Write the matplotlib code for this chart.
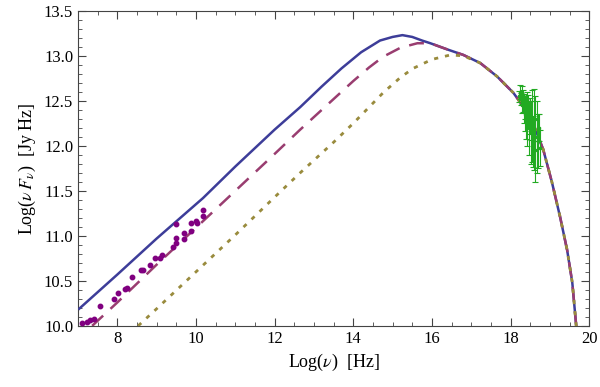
import numpy as np
import matplotlib
matplotlib.use('Agg')
import matplotlib.pyplot as plt
from matplotlib.ticker import MultipleLocator

plt.rcParams['font.family'] = 'Liberation Serif'
plt.rcParams['mathtext.fontset'] = 'stix'

# Modelo 1 (linha solida)
x_solid = [7.03, 8.0, 9.0, 10.18, 11.0, 12.0, 12.65, 13.2, 13.7, 14.2, 14.68, 15.0, 15.25,
           15.5, 15.75, 15.96, 16.4, 16.8, 17.23, 17.66, 18.07, 18.5, 18.83, 19.05, 19.26,
           19.44, 19.57, 19.67, 19.75]
y_solid = [10.19, 10.57, 10.97, 11.42, 11.77, 12.18, 12.43, 12.66, 12.86, 13.04, 13.17, 13.21, 13.23,
           13.21, 13.17, 13.14, 13.07, 13.01, 12.92, 12.77, 12.59, 12.33, 11.96, 11.6, 11.21,
           10.84, 10.48, 10.0, 9.6]

# Modelo 2 (tracejado)
x_dash = [7.36, 8.0, 9.0, 10.0, 11.0, 12.0, 12.65, 13.5, 14.0, 14.4, 14.76, 15.2, 15.63,
          15.96, 16.4, 16.8, 17.23, 17.66, 18.07, 18.5, 18.83, 19.05, 19.26, 19.44, 19.57,
          19.67, 19.75]
y_dash = [10.0, 10.26, 10.68, 11.09, 11.5, 11.91, 12.18, 12.52, 12.72, 12.87, 12.99, 13.09, 13.14,
          13.14, 13.07, 13.01, 12.92, 12.77, 12.59, 12.33, 11.96, 11.6, 11.21, 10.84, 10.48,
          10.0, 9.6]

# Modelo 3 (pontilhado)
x_dot = [8.53, 9.0, 10.0, 11.0, 12.0, 12.65, 13.5, 14.0, 14.76, 15.2, 15.52, 16.0, 16.47,
         16.8, 17.23, 17.66, 18.07, 18.5, 18.83, 19.05, 19.26, 19.44, 19.57, 19.67, 19.75]
y_dot = [10.0, 10.19, 10.6, 11.01, 11.43, 11.7, 12.04, 12.25, 12.59, 12.76, 12.86, 12.96, 13.01,
         13.0, 12.92, 12.77, 12.59, 12.33, 11.96, 11.6, 11.21, 10.84, 10.48, 10.0, 9.6]

# Dados radio
radio_x = [7.09, 7.22, 7.30, 7.40, 7.57, 7.91, 8.01, 8.20, 8.25, 8.38, 8.59, 8.66, 8.83, 8.97,
           9.09, 9.14, 9.42, 9.48, 9.50, 9.50, 9.69, 9.69, 9.87, 9.87, 10.01, 10.02, 10.18, 10.18]
radio_y = [10.03, 10.04, 10.06, 10.08, 10.22, 10.30, 10.37, 10.41, 10.42, 10.54, 10.62, 10.62, 10.68, 10.75,
           10.75, 10.79, 10.88, 10.92, 10.98, 11.13, 11.03, 10.97, 11.05, 11.14, 11.17, 11.14, 11.29, 11.22]

# Dados raios X
xray_x = [18.22, 18.25, 18.27, 18.29, 18.30, 18.32, 18.33, 18.35, 18.36, 18.38, 18.40, 18.41,
          18.43, 18.45, 18.47, 18.49, 18.51, 18.53, 18.55, 18.57, 18.59, 18.61, 18.63, 18.66,
          18.69, 18.72, 18.75]
xray_y = [12.55, 12.60, 12.52, 12.56, 12.45, 12.50, 12.40, 12.48, 12.35, 12.42, 12.30, 12.45,
          12.25, 12.38, 12.20, 12.33, 12.15, 12.28, 12.22, 12.05, 12.18, 11.95, 12.30, 12.10,
          12.05, 12.20, 11.98]
xray_err = [0.06, 0.08, 0.07, 0.10, 0.09, 0.12, 0.15, 0.10, 0.18, 0.12, 0.22, 0.15,
            0.25, 0.18, 0.30, 0.20, 0.35, 0.22, 0.40, 0.28, 0.45, 0.35, 0.25, 0.40,
            0.30, 0.15, 0.20]

fig = plt.figure(figsize=(6.0, 3.87), dpi=100)
ax = fig.add_axes([0.13, 0.158, 0.852, 0.814])

ax.plot(x_solid, y_solid, color='#3d3d99', lw=1.8, zorder=3)
ax.plot(x_dash, y_dash, color='#993d70', lw=1.8, dashes=(6, 4), zorder=4)
ax.plot(x_dot, y_dot, color='#998b3d', lw=2.0, dashes=(1.5, 2.5), zorder=5)
ax.plot(radio_x, radio_y, 'o', color='#800080', ms=3.2, zorder=6)
ax.errorbar(xray_x, xray_y, yerr=xray_err, fmt='s', color='#22aa22', ms=2,
            elinewidth=0.8, capsize=2, capthick=0.8, zorder=6)

ax.set_xlim(7, 20)
ax.set_ylim(10, 13.5)
ax.xaxis.set_major_locator(MultipleLocator(2))
ax.xaxis.set_minor_locator(MultipleLocator(0.5))
ax.yaxis.set_major_locator(MultipleLocator(0.5))
ax.yaxis.set_minor_locator(MultipleLocator(0.1))
ax.yaxis.set_major_formatter(plt.FormatStrFormatter('%.1f'))
ax.tick_params(which='both', direction='in', top=True, right=True, color='#444444', labelsize=12)
ax.tick_params(which='major', length=6)
ax.tick_params(which='minor', length=3)
for s in ax.spines.values():
    s.set_color('#444444')

ax.set_xlabel(r'Log($\nu$)  [Hz]', fontsize=13)
ax.set_ylabel(r'Log($\nu\,F_\nu$)  [Jy Hz]', fontsize=13)

fig.savefig('out.png', dpi=100)
